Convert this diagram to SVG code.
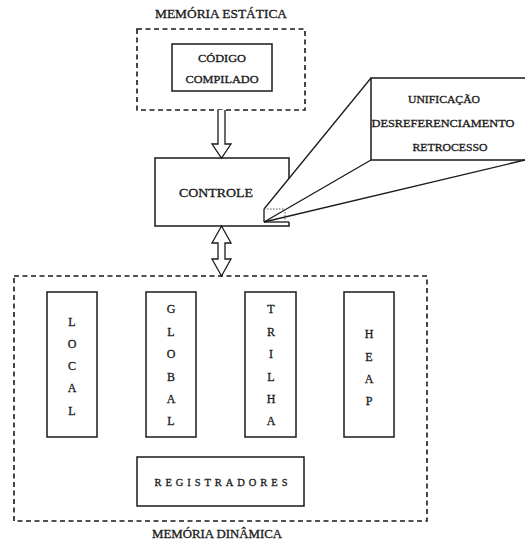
<svg xmlns="http://www.w3.org/2000/svg" width="525" height="547" viewBox="0 0 525 547">
<style>
text{font-family:"Liberation Serif","Times New Roman",serif;fill:#1a1a1a;stroke:#1a1a1a;stroke-width:0.3;text-anchor:middle}
.dash{fill:none;stroke:#1a1a1a;stroke-width:1.6;stroke-dasharray:5,3.5}
.box{fill:#fff;stroke:#1a1a1a;stroke-width:1.5}
.ln{fill:none;stroke:#1a1a1a;stroke-width:1.3}
.dot{fill:none;stroke:#555;stroke-width:1;stroke-dasharray:1.5,1.5}
.arr{fill:#fff;stroke:#1a1a1a;stroke-width:1.3;stroke-linejoin:miter}
.t12{font-size:12px}
.t10{font-size:10.5px}
.v{font-size:12px}
</style>
<rect width="525" height="547" fill="#fff"/>

<g id="memoria-estatica">
<rect class="dash" x="137" y="29" width="168" height="81"/>
<text class="t12" x="221" y="18" textLength="132" lengthAdjust="spacingAndGlyphs">MEMÓRIA ESTÁTICA</text>
</g>

<g id="codigo-compilado">
<rect class="box" x="172" y="44" width="100" height="47"/>
<text class="t10" x="222" y="62" textLength="48" lengthAdjust="spacingAndGlyphs">CÓDIGO</text>
<text class="t10" x="222" y="83" textLength="73" lengthAdjust="spacingAndGlyphs">COMPILADO</text>
</g>

<g id="controle">
<rect class="box" x="155" y="158" width="134" height="68"/>
<text class="t12" x="216" y="197" textLength="74" lengthAdjust="spacingAndGlyphs">CONTROLE</text>
</g>

<g id="callout">
<polygon fill="#fff" points="264,209 371,78 371,160 525,160 290,216 290,222 264,222"/>
<rect class="box" x="371" y="78" width="160" height="82"/>
<line class="ln" x1="264" y1="209" x2="371" y2="78"/>
<line class="ln" x1="264" y1="222" x2="371" y2="160"/>
<line class="ln" x1="264" y1="222" x2="525" y2="160"/>
<line class="ln" x1="264" y1="209" x2="264" y2="222"/>
<line class="ln" x1="264" y1="222" x2="289" y2="222"/>
<polyline class="dot" points="264,209 285,209 285,222"/>
<text class="t10" x="444" y="103" textLength="72" lengthAdjust="spacingAndGlyphs">UNIFICAÇÃO</text>
<text class="t10" x="443" y="127" textLength="143" lengthAdjust="spacingAndGlyphs">DESREFERENCIAMENTO</text>
<text class="t10" x="450" y="151" textLength="75" lengthAdjust="spacingAndGlyphs">RETROCESSO</text>
</g>

<g id="memoria-dinamica">
<rect class="dash" x="14" y="276" width="413" height="245"/>
<text class="t12" x="217" y="538" textLength="130" lengthAdjust="spacingAndGlyphs">MEMÓRIA DINÂMICA</text>
</g>

<g id="local">
<rect class="box" x="47" y="292" width="50" height="145"/>
<text class="v" x="72" y="326">L</text>
<text class="v" x="72" y="348">O</text>
<text class="v" x="72" y="370">C</text>
<text class="v" x="72" y="392">A</text>
<text class="v" x="72" y="415">L</text>
</g>

<g id="global">
<rect class="box" x="146" y="292" width="50" height="145"/>
<text class="v" x="171" y="313">G</text>
<text class="v" x="171" y="336">L</text>
<text class="v" x="171" y="358">O</text>
<text class="v" x="171" y="381">B</text>
<text class="v" x="171" y="403">A</text>
<text class="v" x="171" y="425">L</text>
</g>

<g id="trilha">
<rect class="box" x="245" y="292" width="51" height="145"/>
<text class="v" x="271" y="313">T</text>
<text class="v" x="271" y="336">R</text>
<text class="v" x="271" y="358">I</text>
<text class="v" x="271" y="381">L</text>
<text class="v" x="271" y="403">H</text>
<text class="v" x="271" y="425">A</text>
</g>

<g id="heap">
<rect class="box" x="344" y="292" width="50" height="145"/>
<text class="v" x="369" y="338">H</text>
<text class="v" x="369" y="361">E</text>
<text class="v" x="369" y="383">A</text>
<text class="v" x="369" y="405">P</text>
</g>

<g id="registradores">
<rect class="box" x="137" y="457" width="167" height="49"/>
<text class="t10" x="221" y="486" font-size="11" textLength="133" lengthAdjust="spacing">REGISTRADORES</text>
</g>

<g id="connectors">
<path class="arr" d="M218,110 V144 H212 L221.5,158 L231,144 H225 V110"/>
<path class="arr" d="M221.5,226 L231,243 H225 V259 H231 L221.5,276 L212,259 H218 V243 H212 Z"/>
</g>
</svg>
